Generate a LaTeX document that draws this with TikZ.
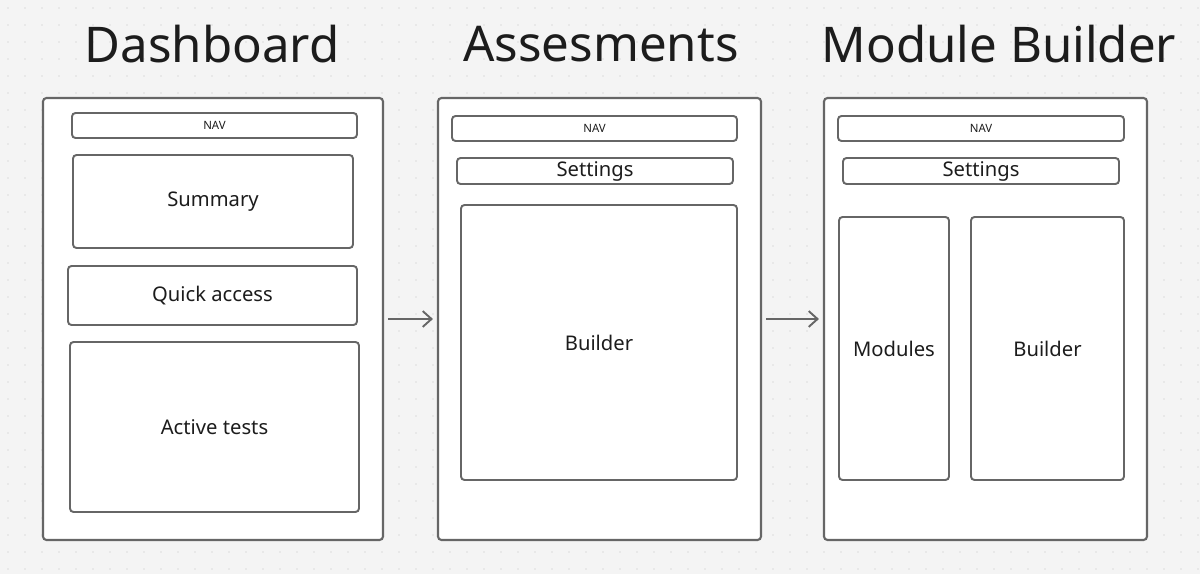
\documentclass[tikz,border=0pt]{standalone}
\usepackage{fontspec}
\setmainfont{Noto Sans}
\usetikzlibrary{positioning,arrows.meta}
\definecolor{bg}{HTML}{F4F4F4}
\definecolor{dotc}{HTML}{C4C4C4}
\definecolor{edge}{HTML}{666666}
\definecolor{ink}{HTML}{1C1C1C}
\tikzset{
  sz/.style 2 args={minimum width=#1*0.02cm, minimum height=#2*0.02cm},
  box/.style={draw=edge, line width=1.1pt, rounded corners=2pt, fill=white,
    inner sep=0pt, text=ink, font=\fontsize{11.5}{13}\selectfont},
  frame/.style={box, line width=1.2pt},
  navbox/.style={box, font=\fontsize{6.5}{8}\selectfont},
  title/.style={text=ink, font=\fontsize{28}{32}\selectfont, inner sep=0pt},
  arr/.style={draw=edge, line width=1.1pt, -{Straight Barb[length=5pt,width=9pt]}, shorten <=4*0.02cm, shorten >=4*0.02cm}
}
\begin{document}
\begin{tikzpicture}[x=0.02cm, y=-0.02cm]
\fill[bg] (0,0) rectangle (1200,574);
\useasboundingbox (0,0) rectangle (1200,574);
% dotted grid
\foreach \i in {0,...,70}
  \foreach \j in {0,...,33}
    \fill[dotc] (\i*17+8,\j*17+8) circle (0.7);
% titles
\node[title] (tdash) at (212,44) {Dashboard};
\node[title] (tasses) at (601,44) {Assesments};
\node[title] (tmod) at (999,44) {Module Builder};
% dashboard
\node[frame, sz={340}{442}] (dash) at (213,319) {};
\node[navbox, sz={285}{25}] (dnav) at (214.5,125.5) {NAV};
\node[box, sz={280}{93}] (summary) at (213,201.5) {Summary};
\node[box, sz={289}{59}] (quick) at (212.5,295.5) {Quick access};
\node[box, sz={289}{170}] (active) at (214.5,427) {Active tests};
% assesments
\node[frame, sz={323}{442}] (asses) at (599.5,319) {};
\node[navbox, sz={285}{25}] (anav) at (594.5,128.5) {NAV};
\node[box, sz={276}{26}] (asettings) at (595,171) {Settings};
\node[box, sz={276}{275}] (abuilder) at (599,342.5) {Builder};
% module builder
\node[frame, sz={323}{442}] (mod) at (985.5,319) {};
\node[navbox, sz={286}{25}] (mnav) at (981,128.5) {NAV};
\node[box, sz={276}{26}] (msettings) at (981,171) {Settings};
\node[box, sz={110}{263}] (modules) at (894,348.5) {Modules};
\node[box, sz={153}{263}] (mbuilder) at (1047.5,348.5) {Builder};
% flow
\draw[arr] (dash) -- (asses);
\draw[arr] (asses) -- (mod);
\end{tikzpicture}
\end{document}
